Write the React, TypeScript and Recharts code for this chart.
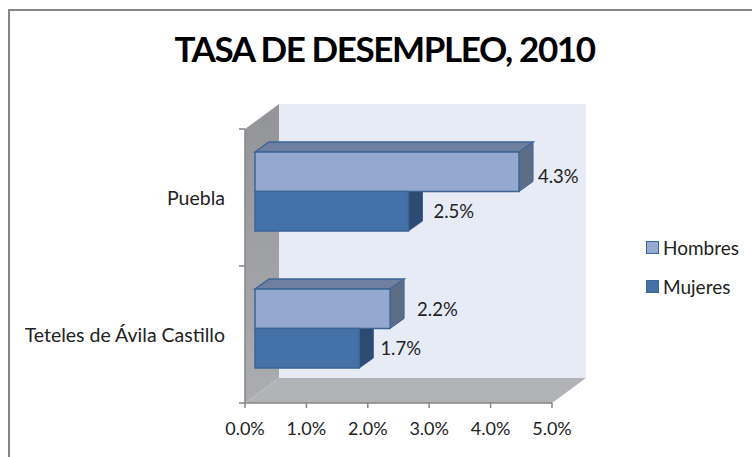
import React from 'react'
import { Bar, BarChart, LabelList, Legend, XAxis, YAxis, usePlotArea } from 'recharts'

const categories = ['Puebla', 'Teteles de Ávila Castillo']
const hombres = [4.3, 2.2]
const mujeres = [2.5, 1.7]
const xTicks = [0, 1, 2, 3, 4, 5]

const data = categories.map((name, i) => ({ name, Hombres: hombres[i], Mujeres: mujeres[i] }))

const FONT = 'Lato, sans-serif'
const AXIS = '#868686'
const TEXT = '#222222'

// fake 3d depth of the whole plot box, and of the bars inside it
const BOX_DX = 34
const BOX_DY = 25
const BAR_SHIFT_X = 10
const BAR_SHIFT_Y = 6
const BAR_DX = 14
const BAR_DY = 10

// the value labels sit a bit unevenly in the original: gap from bar end, shift from bar middle
const labelNudge: Record<string, [number, number]> = {
    '4.3': [19, 4],
    '2.5': [25, 0],
    '2.2': [27, 0],
    '1.7': [21, 0],
}

function Walls() {
    const plot = usePlotArea()
    if (!plot) return null
    const { x, y, width, height } = plot
    const bottom = y + height
    const right = x + width
    const band = height / categories.length
    const ticks = [0, 1, 2].map(i => y + i * band)

    return (
        <g>
            <defs>
                <linearGradient id="wallFill" x1="0" y1="0" x2="0" y2="1">
                    <stop offset="0%" stopColor="#939497" />
                    <stop offset="100%" stopColor="#acadb0" />
                </linearGradient>
            </defs>
            <rect x={x + BOX_DX} y={y - BOX_DY} width={width} height={height} fill="#e7ebf5" />
            <polygon
                points={`${x},${y} ${x + BOX_DX},${y - BOX_DY} ${x + BOX_DX},${bottom - BOX_DY} ${x},${bottom}`}
                fill="url(#wallFill)"
            />
            <polygon
                points={`${x},${bottom} ${x + BOX_DX},${bottom - BOX_DY} ${right + BOX_DX},${bottom - BOX_DY} ${right},${bottom}`}
                fill="#b1b3b6"
            />
            {ticks.map(t => (
                <line key={t} x1={x - 6} x2={x} y1={t} y2={t} stroke={AXIS} strokeWidth={1.5} />
            ))}
        </g>
    )
}

function Bar3d(props: any) {
    const { x, y, width, height, front, top, side, hasTop } = props
    const x0 = x + BAR_SHIFT_X
    const y0 = y - BAR_SHIFT_Y
    const x1 = x0 + width
    const y1 = y0 + height
    const edge = '#3b6597'
    return (
        <g>
            {hasTop && (
                <polygon
                    points={`${x0},${y0} ${x0 + BAR_DX},${y0 - BAR_DY} ${x1 + BAR_DX},${y0 - BAR_DY} ${x1},${y0}`}
                    fill={top}
                    stroke={edge}
                    strokeWidth={1.5}
                />
            )}
            <polygon
                points={
                    hasTop
                        ? `${x1},${y0} ${x1 + BAR_DX},${y0 - BAR_DY} ${x1 + BAR_DX},${y1 - BAR_DY} ${x1},${y1}`
                        : `${x1},${y0} ${x1 + BAR_DX},${y0} ${x1 + BAR_DX},${y1 - BAR_DY} ${x1},${y1}`
                }
                fill={side}
                stroke={edge}
                strokeWidth={1}
            />
            <rect x={x0} y={y0} width={width} height={height} fill={front} stroke={edge} strokeWidth={1.5} />
        </g>
    )
}

function ValueLabel(props: any) {
    const { x, y, width, height, value } = props
    const [gap, shift] = labelNudge[String(value)] ?? [24, 0]
    return (
        <text
            x={x + width + BAR_SHIFT_X + gap}
            y={y - BAR_SHIFT_Y + height / 2 + shift + 7}
            fontFamily={FONT}
            fontSize={18.5}
            fill={TEXT}
        >
            {value.toFixed(1)}%
        </text>
    )
}

function LegendBox() {
    const items = [
        { name: 'Hombres', color: '#95a9d0' },
        { name: 'Mujeres', color: '#4472a8' },
    ]
    return (
        <div style={{ fontFamily: FONT, fontSize: 19, color: TEXT }}>
            {items.map(it => (
                <div key={it.name} style={{ display: 'flex', alignItems: 'center', height: 39 }}>
                    <span
                        style={{
                            width: 11,
                            height: 11,
                            background: it.color,
                            border: '1.5px solid #3b6597',
                            marginRight: 4,
                        }}
                    />
                    {it.name}
                </div>
            ))}
        </div>
    )
}

export default function App() {
    return (
        <div style={{ position: 'absolute', left: 0, top: 0, width: 752, height: 457, background: '#fff', overflow: 'hidden' }}>
            {/* only the left and top of the frame are in the picture */}
            <div
                style={{
                    position: 'absolute',
                    left: 8,
                    top: 9,
                    width: 760,
                    height: 460,
                    borderLeft: `2px solid ${AXIS}`,
                    borderTop: `2px solid ${AXIS}`,
                }}
            />
            <div
                style={{
                    position: 'absolute',
                    left: 0,
                    width: 769,
                    top: 27,
                    textAlign: 'center',
                    fontFamily: FONT,
                    fontWeight: 700,
                    fontSize: 35,
                    letterSpacing: -1.4,
                    color: '#000',
                    whiteSpace: 'nowrap',
                }}
            >
                TASA DE DESEMPLEO, 2010
            </div>
            <div style={{ position: 'absolute', left: 0, top: 0 }}>
                <BarChart
                    width={752}
                    height={457}
                    data={data}
                    layout="vertical"
                    barSize={39.5}
                    barGap={0}
                    margin={{ top: 129, right: 94, bottom: 0, left: 0 }}
                >
                    <Walls />
                    <XAxis
                        type="number"
                        domain={[0, 5]}
                        ticks={xTicks}
                        tickFormatter={(v: number) => `${v.toFixed(1)}%`}
                        height={54}
                        stroke={AXIS}
                        strokeWidth={1.5}
                        tickSize={5}
                        tickMargin={14}
                        tick={{ fill: TEXT, fontFamily: FONT, fontSize: 18 }}
                    />
                    <YAxis
                        type="category"
                        dataKey="name"
                        width={245}
                        stroke={AXIS}
                        strokeWidth={1.5}
                        tickLine={false}
                        tickMargin={14}
                        dy={1}
                        tick={{ fill: TEXT, fontFamily: FONT, fontSize: 19.5 }}
                    />
                    <Bar
                        dataKey="Hombres"
                        isAnimationActive={false}
                        fill="#95a9d0"
                        shape={(p: any) => <Bar3d {...p} front="#95a9d0" top="#6f7f9f" side="#5d6d86" hasTop />}
                    >
                        <LabelList dataKey="Hombres" content={ValueLabel} />
                    </Bar>
                    <Bar
                        dataKey="Mujeres"
                        isAnimationActive={false}
                        fill="#4472a8"
                        shape={(p: any) => <Bar3d {...p} front="#4472a8" top="#33557e" side="#2c4a72" hasTop={false} />}
                    >
                        <LabelList dataKey="Mujeres" content={ValueLabel} />
                    </Bar>
                    <Legend
                        layout="vertical"
                        align="right"
                        verticalAlign="middle"
                        content={LegendBox}
                        wrapperStyle={{ position: 'absolute', left: 646, top: 228, width: 106 }}
                    />
                </BarChart>
            </div>
        </div>
    )
}
